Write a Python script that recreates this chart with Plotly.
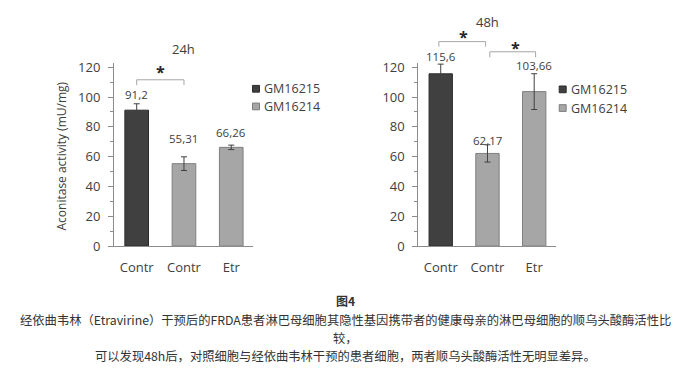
import plotly.graph_objects as go

# ---------------- data ----------------
categories = ["Contr", "Contr", "Etr"]
series_names = ["GM16215", "GM16214"]
bar_series = [0, 1, 1]              # series index of each bar

vals_24h = [91.2, 55.31, 66.26]
err_24h = [4.3, 4.6, 1.5]
text_24h = ["91,2", "55,31", "66,26"]

vals_48h = [115.6, 62.17, 103.66]
err_48h = [6.5, 5.8, 12.0]
text_48h = ["115,6", "62,17", "103,66"]

y_ticks = [0, 20, 40, 60, 80, 100, 120]
panel_titles = ["24h", "48h"]
y_title = "Aconitase activity (mU/mg)"

caption_title = "图4"
caption_lines = [
    "经依曲韦林（Etravirine）干预后的FRDA患者淋巴母细胞其隐性基因携带者的健康母亲的淋巴母细胞的顺乌头酸酶活性比",
    "较，",
    "可以发现48h后，对照细胞与经依曲韦林干预的患者细胞，两者顺乌头酸酶活性无明显差异。",
]

# ---------------- styles ----------------
W, H = 690, 380
OFF = 8          # page body margin of the html page
Y_MAX = 123
colors = ["#404040", "#a6a6a6"]
edge_colors = ["#2b2b2b", "#7f7f7f"]
txt = "#404040"
axis_col = "#8c8c8c"
FONT = "Open Sans"
CJK = "Noto Sans CJK SC"


def px_x(p):
    return (p - OFF) / W


def px_y(p):
    return 1 - (p - OFF) / H


fig = go.Figure()

panels = [
    dict(vals=vals_24h, err=err_24h, text=text_24h, xa="x", ya="y",
         lift=[16, 25, 15]),
    dict(vals=vals_48h, err=err_48h, text=text_48h, xa="x2", ya="y2",
         lift=[17, 13, 26]),
]

annotations = []
shapes = []
for p in panels:
    for s in range(len(series_names)):
        idx = [i for i, b in enumerate(bar_series) if b == s]
        fig.add_trace(go.Bar(
            x=idx, y=[p["vals"][i] for i in idx],
            error_y=dict(type="data", array=[p["err"][i] for i in idx],
                         color="#404040", thickness=1, width=3),
            marker=dict(color=colors[s], line=dict(color=edge_colors[s], width=1)),
            width=0.5, name=series_names[s], showlegend=False,
            xaxis=p["xa"], yaxis=p["ya"], hoverinfo="skip",
        ))
    for i, v in enumerate(p["vals"]):
        annotations.append(dict(
            x=i, y=v, xref=p["xa"], yref=p["ya"], text=p["text"][i],
            showarrow=False, yanchor="middle", yshift=p["lift"][i],
            font=dict(family=FONT, size=11.5, color=txt)))

# significance brackets (x in data units, y in axis units scaled to the domain)
brackets = [
    dict(xa="x", ya="y", x0=0, x1=1, top=111.6, foot=108.0, sx=0.5, sy=117.0),
    dict(xa="x2", ya="y2", x0=-0.04, x1=0.96, top=137.2, foot=133.8, sx=0.49, sy=140.5),
    dict(xa="x2", ya="y2", x0=1.05, x1=2.03, top=130.4, foot=126.7, sx=1.6, sy=133.2),
]
for b in brackets:
    ft, tp = b["foot"] / Y_MAX, b["top"] / Y_MAX
    shapes.append(dict(
        type="path", xref=b["xa"], yref=b["ya"] + " domain",
        path=f"M{b['x0']},{ft} L{b['x0']},{tp} L{b['x1']},{tp} L{b['x1']},{ft}",
        line=dict(color="#a6a6a6", width=1)))
    annotations.append(dict(
        x=b["sx"], y=b["sy"] / Y_MAX, xref=b["xa"], yref=b["ya"] + " domain",
        text="<b>*</b>", showarrow=False, yanchor="middle",
        font=dict(family=FONT, size=16, color="#262626")))

# panel titles
for k, (xa, ty) in enumerate([("x", 45), ("x2", 17)]):
    annotations.append(dict(
        x=0.5, xref=xa + " domain", y=px_y(ty), yref="paper",
        text=panel_titles[k], showarrow=False, yanchor="middle",
        font=dict(family=FONT, size=13, color=txt)))

# y-axis title (left panel)
annotations.append(dict(
    x=px_x(62), y=px_y(157), xref="paper", yref="paper", text=y_title,
    textangle=-90, showarrow=False, xanchor="center", yanchor="middle",
    font=dict(family=FONT, size=12, color=txt)))

# legends (drawn boxes + labels)
for (sx, ys) in [(256, [86.7, 105.0]), (562.7, [87.3, 106.7])]:
    for s, yc in enumerate(ys):
        shapes.append(dict(
            type="rect", xref="paper", yref="paper",
            x0=px_x(sx - 3.5), x1=px_x(sx + 3.5),
            y0=px_y(yc + 3.5), y1=px_y(yc - 3.5),
            fillcolor=colors[s], line=dict(color=edge_colors[s], width=1)))
        annotations.append(dict(
            x=px_x(sx + 6), y=px_y(yc), xref="paper", yref="paper",
            text=series_names[s], showarrow=False, xanchor="left",
            yanchor="middle", font=dict(family=FONT, size=12.5, color=txt)))

# caption
annotations.append(dict(
    x=px_x(345), y=px_y(307), xref="paper", yref="paper",
    text="<b>" + caption_title + "</b>", showarrow=False, yanchor="middle",
    font=dict(family=CJK, size=12, color="#333333")))
for line, yc in zip(caption_lines, [327, 345.5, 364]):
    annotations.append(dict(
        x=px_x(345), y=px_y(yc), xref="paper", yref="paper", text=line,
        showarrow=False, yanchor="middle",
        font=dict(family=CJK, size=12.3, color="#333333")))

xcommon = dict(range=[-0.48, 2.46], tickvals=[0, 1, 2], ticktext=categories,
               showline=True, linecolor=axis_col, linewidth=1, ticks="",
               showgrid=False, zeroline=False, ticklabelstandoff=9,
               tickfont=dict(family=FONT, size=13, color=txt), fixedrange=True)
ycommon = dict(range=[0, Y_MAX], tickvals=y_ticks, showline=True,
               linecolor=axis_col, linewidth=1, ticks="outside", ticklen=5,
               tickcolor=axis_col, showgrid=False, zeroline=False,
               minor=dict(ticks="outside", ticklen=3, dtick=10, tickcolor=axis_col),
               ticklabelstandoff=5,
               tickfont=dict(family=FONT, size=13, color=txt), fixedrange=True,
               domain=[px_y(250), px_y(59.7)])

fig.update_layout(
    width=W, height=H, margin=dict(l=0, r=0, t=0, b=0),
    paper_bgcolor="white", plot_bgcolor="white", barmode="overlay",
    showlegend=False,
    xaxis=dict(xcommon, domain=[px_x(114), px_x(253)], anchor="y"),
    yaxis=dict(ycommon, anchor="x"),
    xaxis2=dict(xcommon, domain=[px_x(418.3), px_x(555.7)], anchor="y2"),
    yaxis2=dict(ycommon, anchor="x2"),
    annotations=annotations, shapes=shapes,
)

fig.write_html("out.html")
